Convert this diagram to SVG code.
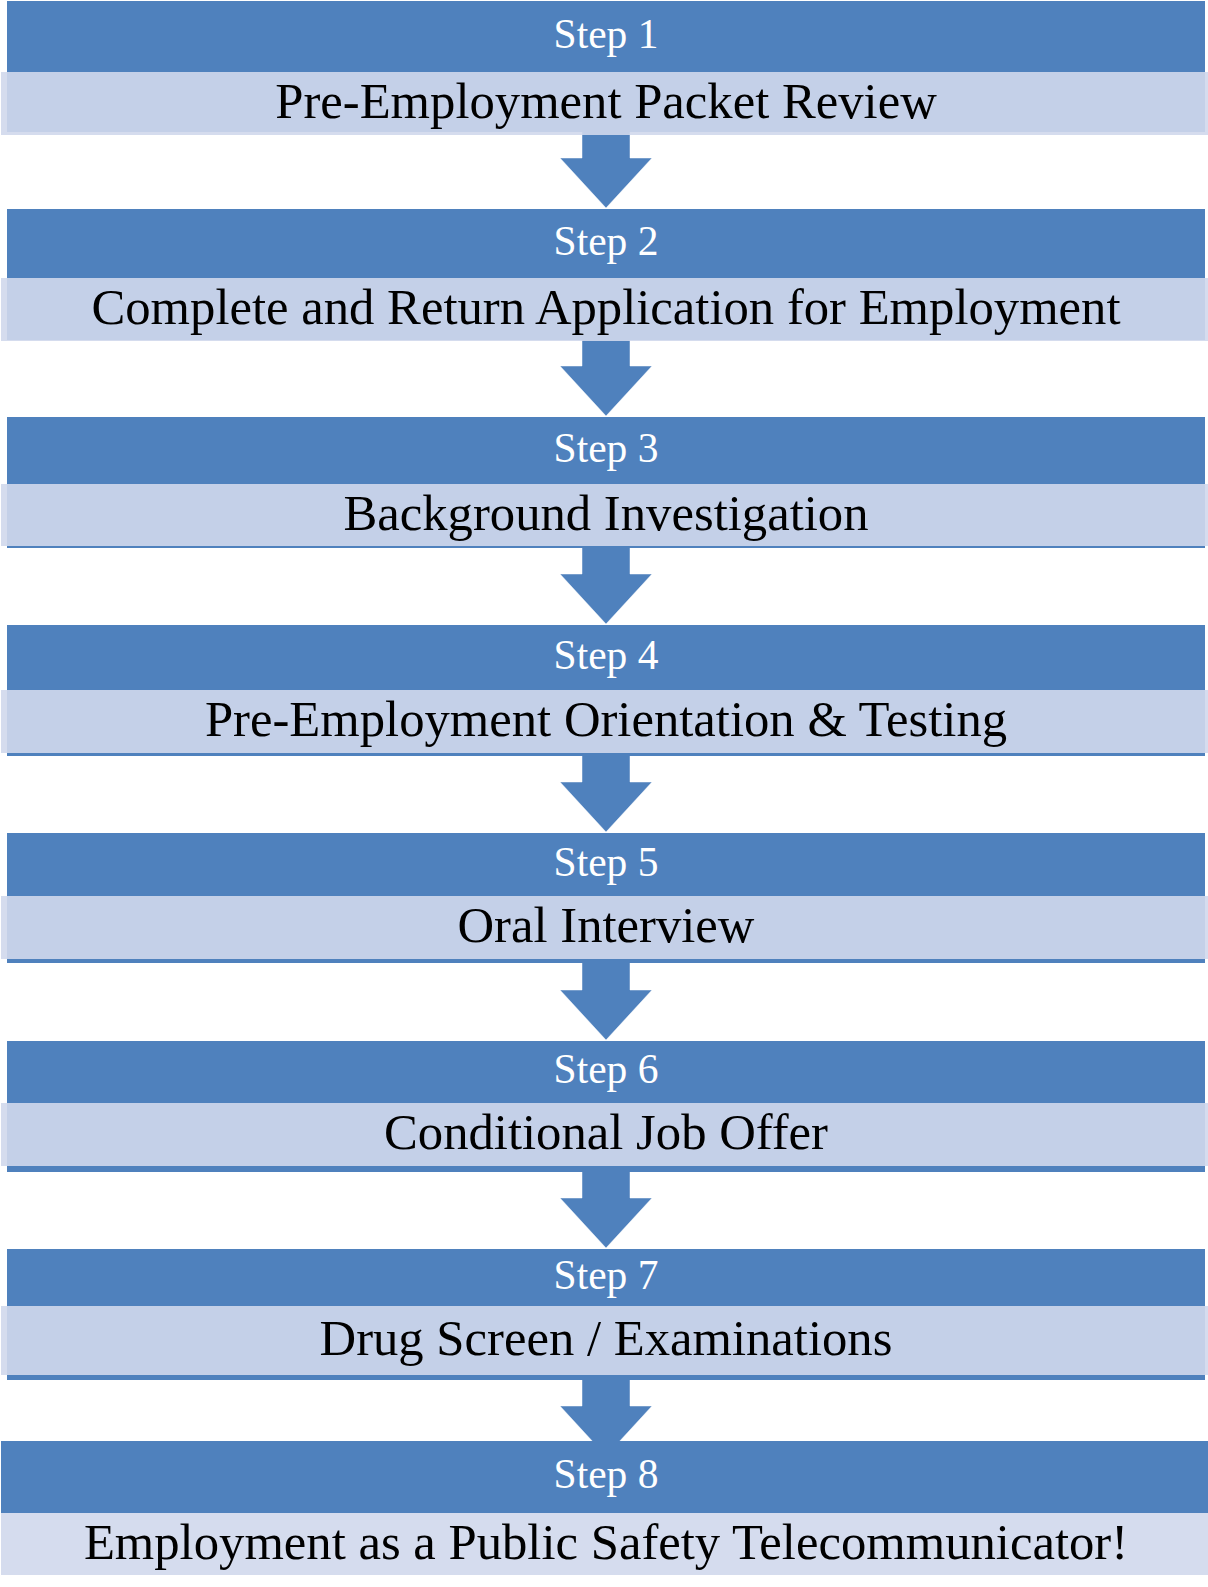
<svg xmlns="http://www.w3.org/2000/svg" width="1208" height="1587" viewBox="0 0 1208 1587">
<style>
.bg{fill:#ffffff}
.dark{fill:#4F81BD}
.light{fill:#D0D8EC;fill-opacity:0.9}
.arrow{fill:#4F81BD;stroke:#ffffff;stroke-opacity:0.6;stroke-width:0.8;stroke-linejoin:round}
.lbl{font-family:"Liberation Serif","Times New Roman",serif;font-size:41.5px;fill:#ffffff;text-anchor:middle}
.ttl{font-family:"Liberation Serif","Times New Roman",serif;font-size:50.7px;fill:#000000;text-anchor:middle}
</style>
<rect class="bg" x="0" y="0" width="1208" height="1587"/>
<g id="connectors">
<path class="arrow" d="M582,128 L630,128 L630,158 L652,158 L606,208 L560,158 L582,158 Z"/>
<path class="arrow" d="M582,336 L630,336 L630,366 L652,366 L606,416 L560,366 L582,366 Z"/>
<path class="arrow" d="M582,544 L630,544 L630,574 L652,574 L606,624 L560,574 L582,574 Z"/>
<path class="arrow" d="M582,752 L630,752 L630,782 L652,782 L606,832 L560,782 L582,782 Z"/>
<path class="arrow" d="M582,960 L630,960 L630,990 L652,990 L606,1040 L560,990 L582,990 Z"/>
<path class="arrow" d="M582,1168 L630,1168 L630,1198 L652,1198 L606,1248 L560,1198 L582,1198 Z"/>
<path class="arrow" d="M582,1376 L630,1376 L630,1406 L652,1406 L606,1456 L560,1406 L582,1406 Z"/>
</g>
<g id="step1">
<rect class="dark" x="7" y="1" width="1198" height="131"/>
<rect class="light" x="1" y="72" width="1207" height="63"/>
<text class="lbl" x="606" y="47.5">Step 1</text>
<text class="ttl" x="606" y="118">Pre-Employment Packet Review</text>
</g>
<g id="step2">
<rect class="dark" x="7" y="209" width="1198" height="131"/>
<rect class="light" x="1" y="278" width="1207" height="63"/>
<text class="lbl" x="606" y="254.5">Step 2</text>
<text class="ttl" x="606" y="324">Complete and Return Application for Employment</text>
</g>
<g id="step3">
<rect class="dark" x="7" y="417" width="1198" height="131"/>
<rect class="light" x="1" y="484" width="1207" height="62"/>
<text class="lbl" x="606" y="461.5">Step 3</text>
<text class="ttl" x="606" y="529.5">Background Investigation</text>
</g>
<g id="step4">
<rect class="dark" x="7" y="625" width="1198" height="131"/>
<rect class="light" x="1" y="690" width="1207" height="63"/>
<text class="lbl" x="606" y="668.5">Step 4</text>
<text class="ttl" x="606" y="736">Pre-Employment Orientation &amp; Testing</text>
</g>
<g id="step5">
<rect class="dark" x="7" y="833" width="1198" height="130"/>
<rect class="light" x="1" y="896" width="1207" height="63"/>
<text class="lbl" x="606" y="875.5">Step 5</text>
<text class="ttl" x="606" y="942">Oral Interview</text>
</g>
<g id="step6">
<rect class="dark" x="7" y="1041" width="1198" height="131"/>
<rect class="light" x="1" y="1103" width="1207" height="63"/>
<text class="lbl" x="606" y="1083">Step 6</text>
<text class="ttl" x="606" y="1149">Conditional Job Offer</text>
</g>
<g id="step7">
<rect class="dark" x="7" y="1249" width="1198" height="131"/>
<rect class="light" x="1" y="1306" width="1207" height="69"/>
<text class="lbl" x="606" y="1288.5">Step 7</text>
<text class="ttl" x="606" y="1355">Drug Screen / Examinations</text>
</g>
<g id="step8">
<rect class="dark" x="1" y="1441" width="1207" height="72"/>
<rect class="light" x="1" y="1513" width="1207" height="62"/>
<text class="lbl" x="606" y="1488">Step 8</text>
<text class="ttl" x="606" y="1558.5">Employment as a Public Safety Telecommunicator!</text>
</g>
</svg>
